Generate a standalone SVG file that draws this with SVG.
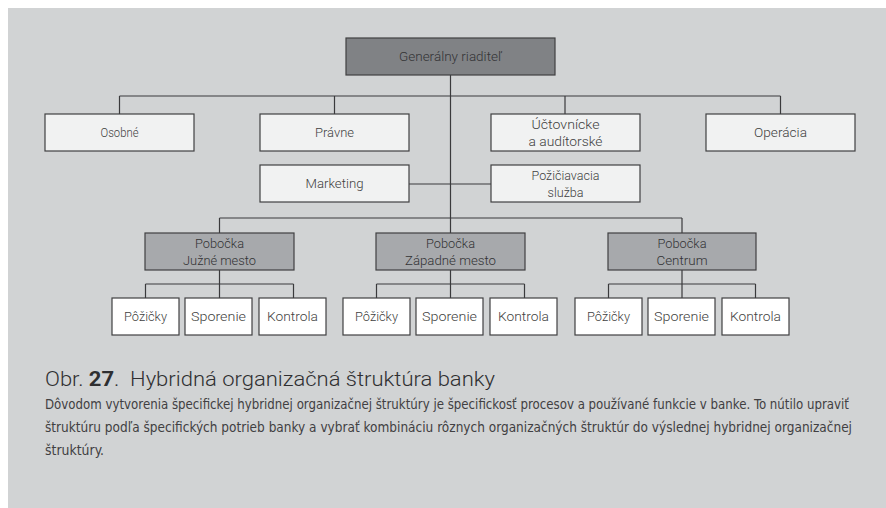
<svg xmlns="http://www.w3.org/2000/svg" width="886" height="508" viewBox="0 0 886 508">
<style>
.bx{stroke:#404041;stroke-width:1.2}
.l1{fill:#f1f2f2}
.ch{fill:#ffffff}
.dk{fill:#808285}
.md{fill:#a7a9ac}
.t{font-family:Roboto,"Open Sans","Liberation Sans",sans-serif;font-size:13.5px;font-weight:300;fill:#3f3f41;text-anchor:middle}
.td{fill:#333335}
.cn{stroke:#3a3a3c;stroke-width:1.2;fill:none}
.cap{font-family:Roboto,"Open Sans","Liberation Sans",sans-serif;font-size:21px;font-weight:300;fill:#2f2f31}
.body{font-family:"DejaVu Sans Condensed","Liberation Sans Narrow","Open Sans",sans-serif;font-size:14px;fill:#414042}
</style>
<rect x="0" y="0" width="886" height="508" fill="#ffffff"/>
<rect x="8" y="8" width="878" height="500" fill="#d1d3d4"/>
<g id="connectors">
<path class="cn" d="M450.5 75V233M450.5 270V298M119.5 96H780.5M119.5 96V114M334.5 96V114M565 96V114M780.5 96V114M409 184H491M219.5 218H682M219.5 218V233M682 218V233"/>
<path class="cn" d="M219.5 270V298M145.5 284H293.5M145.5 284V298M293.5 284V298"/>
<path class="cn" d="M376.5 284H524.5M376.5 284V298M524.5 284V298"/>
<path class="cn" d="M682 270V298M608.5 284H755.5M608.5 284V298M755.5 284V298"/>
</g>
<g id="gen"><rect class="bx dk" x="346" y="38" width="209" height="37"/><text class="t td" x="450.5" y="61" textLength="103" lengthAdjust="spacingAndGlyphs">Generálny riaditeľ</text></g>
<g id="osobne"><rect class="bx l1" x="45" y="114" width="149" height="37"/><text class="t" x="119.5" y="137" textLength="38" lengthAdjust="spacingAndGlyphs">Osobné</text></g>
<g id="pravne"><rect class="bx l1" x="260" y="114" width="149" height="37"/><text class="t" x="334.5" y="137" textLength="39" lengthAdjust="spacingAndGlyphs">Právne</text></g>
<g id="uctovnicke"><rect class="bx l1" x="491" y="114" width="149" height="37"/><text class="t" x="565.5" y="129" textLength="68" lengthAdjust="spacingAndGlyphs">Účtovnícke</text><text class="t" x="565.5" y="146" textLength="74" lengthAdjust="spacingAndGlyphs">a audítorské</text></g>
<g id="operacia"><rect class="bx l1" x="706" y="114" width="149" height="37"/><text class="t" x="780.5" y="137" textLength="53" lengthAdjust="spacingAndGlyphs">Operácia</text></g>
<g id="marketing"><rect class="bx l1" x="260" y="165" width="149" height="37"/><text class="t" x="334.5" y="188" textLength="58" lengthAdjust="spacingAndGlyphs">Marketing</text></g>
<g id="pozic"><rect class="bx l1" x="491" y="165" width="149" height="37"/><text class="t" x="565.5" y="180" textLength="68" lengthAdjust="spacingAndGlyphs">Požičiavacia</text><text class="t" x="565.5" y="197" textLength="36" lengthAdjust="spacingAndGlyphs">služba</text></g>
<g id="pob-juzne"><rect class="bx md" x="145" y="233" width="149" height="37"/><text class="t td" x="219.5" y="248" textLength="49" lengthAdjust="spacingAndGlyphs">Pobočka</text><text class="t td" x="219.5" y="265" textLength="73" lengthAdjust="spacingAndGlyphs">Južné mesto</text></g>
<g id="pob-zapadne"><rect class="bx md" x="376" y="233" width="149" height="37"/><text class="t td" x="450.5" y="248" textLength="49" lengthAdjust="spacingAndGlyphs">Pobočka</text><text class="t td" x="450.5" y="265" textLength="91" lengthAdjust="spacingAndGlyphs">Západné mesto</text></g>
<g id="pob-centrum"><rect class="bx md" x="608" y="233" width="148" height="37"/><text class="t td" x="682" y="248" textLength="49" lengthAdjust="spacingAndGlyphs">Pobočka</text><text class="t td" x="682" y="265" textLength="51" lengthAdjust="spacingAndGlyphs">Centrum</text></g>
<g id="j-poz"><rect class="bx ch" x="112" y="298" width="67" height="37"/><text class="t" x="145.5" y="321" textLength="43" lengthAdjust="spacingAndGlyphs">Pôžičky</text></g>
<g id="j-spo"><rect class="bx ch" x="185" y="298" width="67" height="37"/><text class="t" x="218.5" y="321" textLength="55" lengthAdjust="spacingAndGlyphs">Sporenie</text></g>
<g id="j-kon"><rect class="bx ch" x="259" y="298" width="67" height="37"/><text class="t" x="292.5" y="321" textLength="51" lengthAdjust="spacingAndGlyphs">Kontrola</text></g>
<g id="z-poz"><rect class="bx ch" x="343" y="298" width="67" height="37"/><text class="t" x="376.5" y="321" textLength="43" lengthAdjust="spacingAndGlyphs">Pôžičky</text></g>
<g id="z-spo"><rect class="bx ch" x="416" y="298" width="67" height="37"/><text class="t" x="449.5" y="321" textLength="55" lengthAdjust="spacingAndGlyphs">Sporenie</text></g>
<g id="z-kon"><rect class="bx ch" x="490" y="298" width="67" height="37"/><text class="t" x="523.5" y="321" textLength="51" lengthAdjust="spacingAndGlyphs">Kontrola</text></g>
<g id="c-poz"><rect class="bx ch" x="575" y="298" width="67" height="37"/><text class="t" x="608.5" y="321" textLength="43" lengthAdjust="spacingAndGlyphs">Pôžičky</text></g>
<g id="c-spo"><rect class="bx ch" x="648" y="298" width="67" height="37"/><text class="t" x="681.5" y="321" textLength="55" lengthAdjust="spacingAndGlyphs">Sporenie</text></g>
<g id="c-kon"><rect class="bx ch" x="722" y="298" width="67" height="37"/><text class="t" x="755.5" y="321" textLength="51" lengthAdjust="spacingAndGlyphs">Kontrola</text></g>
<text class="cap" x="45" y="386" textLength="450" lengthAdjust="spacingAndGlyphs" xml:space="preserve">Obr. <tspan font-weight="bold">27</tspan>.  Hybridná organizačná štruktúra banky</text>
<text class="body" x="45" y="409" textLength="804" lengthAdjust="spacingAndGlyphs">Dôvodom vytvorenia špecifickej hybridnej organizačnej štruktúry je špecifickosť procesov a používané funkcie v banke. To nútilo upraviť</text>
<text class="body" x="45" y="432" textLength="807" lengthAdjust="spacingAndGlyphs">štruktúru podľa špecifických potrieb banky a vybrať kombináciu rôznych organizačných štruktúr do výslednej hybridnej organizačnej</text>
<text class="body" x="45" y="455" textLength="59" lengthAdjust="spacingAndGlyphs">štruktúry.</text>
</svg>
